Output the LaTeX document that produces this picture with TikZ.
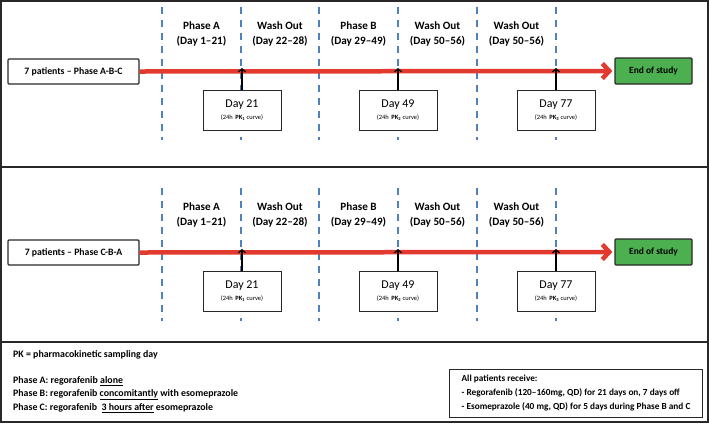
\documentclass[tikz,border=0pt]{standalone}
\usepackage{fontspec}
\setmainfont{Carlito}
\usetikzlibrary{arrows.meta}
\definecolor{redline}{RGB}{226,58,46}
\definecolor{dashblue}{RGB}{79,129,189}
\definecolor{endgreen}{RGB}{76,175,80}
\definecolor{framegray}{RGB}{40,40,40}
\begin{document}
\begin{tikzpicture}[x=1bp,y=-1bp,
 patbox/.style={draw=framegray, line width=1.2bp, rounded corners=1bp, minimum width=131bp, minimum height=25bp, font=\bfseries\fontsize{9.8}{10}\selectfont, inner sep=0pt},
 endbox/.style={patbox, fill=endgreen, minimum width=77bp, minimum height=26bp, font=\bfseries\fontsize{9.5}{10}\selectfont},
 daybox/.style={draw=framegray, fill=white, line width=0.8bp, minimum width=78bp, minimum height=40bp, align=center, inner sep=0pt, font=\fontsize{12}{13}\selectfont},
 phaselbl/.style={font=\bfseries\fontsize{11.2}{15}\selectfont, align=center, inner sep=0pt},
 sepline/.style={dashblue, line width=1.5bp, dash pattern=on 7bp off 6bp},
 redarrow/.style={redline, line width=4.5bp, -{Straight Barb[length=7bp,width=15bp]}},
 pkarrow/.style={line width=1.2bp, -{Straight Barb[length=3bp,width=7bp]}},
 legend/.style={font=\bfseries\fontsize{9.9}{14}\selectfont, anchor=west, inner sep=0pt},
 infobox/.style={draw=framegray, line width=1bp, minimum width=253bp, minimum height=48bp, align=left, font=\bfseries\fontsize{9.3}{14}\selectfont, inner xsep=6bp, inner ysep=0pt}
 ]
\useasboundingbox (0,0) rectangle (709,423);
\draw[framegray, line width=2bp] (1,1) rectangle (708,422);
\draw[framegray, line width=1.2bp] (1,167) -- (708,167);
\draw[framegray, line width=1.2bp] (1,342) -- (708,342);

\foreach \off/\lbl/\s in {0/A-B-C/a, 181/C-B-A/b}{
  \foreach \x in {162,241,319,398,477,556}{
    \draw[sepline] (\x,7+\off) -- (\x,140+\off);
  }
  \node[phaselbl] (pa\s) at (201.5,33.5+\off) {Phase A\\(Day 1–21)};
  \node[phaselbl] (wa\s) at (280,33.5+\off) {Wash Out\\(Day 22–28)};
  \node[phaselbl] (pb\s) at (358.5,33.5+\off) {Phase B\\(Day 29–49)};
  \node[phaselbl] (wb\s) at (437.5,33.5+\off) {Wash Out\\(Day 50–56)};
  \node[phaselbl] (wc\s) at (516.5,33.5+\off) {Wash Out\\(Day 50–56)};
  \node[patbox, fill=white] (pat\s) at (73.5,71.5+\off) {7 patients – Phase \lbl};
  \node[endbox] (end\s) at (653.5,71+\off) {End of study};
  \draw[redarrow] (pat\s.east) -- ([xshift=-2bp]end\s.west);
  \node[daybox] (d1\s) at (242,110+\off) {Day 21\\[-1bp]{\fontsize{6.5}{7}\selectfont(24h \,\textbf{PK\textsubscript{1}} curve)}};
  \node[daybox] (d2\s) at (398,110+\off) {Day 49\\[-1bp]{\fontsize{6.5}{7}\selectfont(24h \,\textbf{PK\textsubscript{2}} curve)}};
  \node[daybox] (d3\s) at (556,110+\off) {Day 77\\[-1bp]{\fontsize{6.5}{7}\selectfont(24h \,\textbf{PK\textsubscript{3}} curve)}};
  \foreach \d in {d1,d2,d3}{
    \coordinate (t\d\s) at (\d\s.north |- pat\s.east);
    \draw[pkarrow] (\d\s.north) -- ([yshift=3.5bp]t\d\s);
  }
}

\node[legend] (pkdef) at (13,355) {PK = pharmacokinetic sampling day};
\node[legend] (lega) at (13,381) {Phase A: regorafenib \underline{alone}};
\node[legend] (legb) at (13,395) {Phase B: regorafenib \underline{concomitantly} with esomeprazole};
\node[legend] (legc) at (13,408) {Phase C: regorafenib \ \underline{3 hours after} esomeprazole};
\node[infobox, anchor=west] (info) at (449,393) {All patients receive:\\- Regorafenib (120–160mg, QD) for 21 days on, 7 days off\\- Esomeprazole (40 mg, QD) for 5 days during Phase B and C};
\end{tikzpicture}
\end{document}
